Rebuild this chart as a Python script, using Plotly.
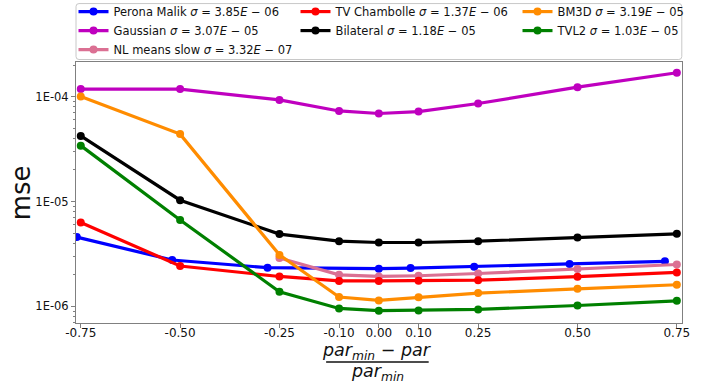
import plotly.graph_objects as go

# Relative parameter offsets (par_min - par) / par_min
x_common = [-0.75, -0.5, -0.25, -0.1, 0.0, 0.1, 0.25, 0.5, 0.75]
x_perona = [-0.76, -0.52, -0.28, 0.0, 0.08, 0.24, 0.48, 0.72]
x_nlmeans = [-0.25, -0.1, 0.0, 0.1, 0.25, 0.5, 0.75]

# Mean squared error per method
mse_perona = [4.58e-6, 2.77e-6, 2.34e-6, 2.29e-6, 2.32e-6, 2.39e-6, 2.54e-6, 2.69e-6]
mse_gaussian = [1.18e-4, 1.18e-4, 9.3e-5, 7.3e-5, 6.9e-5, 7.2e-5, 8.6e-5, 1.23e-4, 1.69e-4]
mse_nlmeans = [2.89e-6, 2.0e-6, 1.93e-6, 1.96e-6, 2.06e-6, 2.27e-6, 2.51e-6]
mse_tv = [6.31e-6, 2.43e-6, 1.93e-6, 1.75e-6, 1.75e-6, 1.76e-6, 1.78e-6, 1.92e-6, 2.11e-6]
mse_bilateral = [4.22e-5, 1.03e-5, 4.89e-6, 4.19e-6, 4.07e-6, 4.07e-6, 4.19e-6, 4.54e-6, 4.92e-6]
mse_bm3d = [1.0e-4, 4.39e-5, 3.1e-6, 1.23e-6, 1.14e-6, 1.22e-6, 1.34e-6, 1.47e-6, 1.61e-6]
mse_tvl2 = [3.41e-5, 6.67e-6, 1.38e-6, 9.57e-7, 9.1e-7, 9.14e-7, 9.36e-7, 1.02e-6, 1.13e-6]

x_ticks = [-0.75, -0.5, -0.25, -0.1, 0.0, 0.1, 0.25, 0.5, 0.75]
x_ticktext = ["-0.75", "-0.50", "-0.25", "-0.10", "0.00", "0.10", "0.25", "0.50", "0.75"]
y_ticks = [1e-6, 1e-5, 1e-4]
y_ticktext = ["1E-06", "1E-05", "1E-04"]


def sig(name, mant, exp):
    return f"{name} <i>σ</i> = {mant}<i>E</i> − {exp}"


series = [
    (sig("Perona Malik", "3.85", "06"), x_perona, mse_perona, "#0000ff", 1),
    (sig("Gaussian", "3.07", "05"), x_common, mse_gaussian, "#bf00bf", 4),
    (sig("NL means slow", "3.32", "07"), x_nlmeans, mse_nlmeans, "#db7093", 7),
    (sig("TV Chambolle", "1.37", "06"), x_common, mse_tv, "#ff0000", 2),
    (sig("Bilateral", "1.18", "05"), x_common, mse_bilateral, "#000000", 5),
    (sig("BM3D", "3.19", "05"), x_common, mse_bm3d, "#ff8c00", 3),
    (sig("TVL2", "1.03", "05"), x_common, mse_tvl2, "#008000", 6),
]

fig = go.Figure()
for name, xs, ys, color, rank in series:
    fig.add_trace(go.Scatter(
        x=xs, y=ys, name=name, mode="lines+markers",
        line=dict(color=color, width=3.2),
        marker=dict(color=color, size=8),
        legendrank=rank,
    ))

W, H = 713, 385
L, R, T, B = 75.5, 31.3, 62, 61.7
plot_w = W - L - R
plot_h = H - T - B

font = "DejaVu Sans"
axis_col = "#808080"
text_col = "#111111"

minor_vals = [k * 10.0 ** e for e in (-7, -6, -5, -4) for k in range(2, 10)]


def px_x(X):
    return (X - L) / plot_w


def px_y(Y):
    return (H - B - Y) / plot_h


fig.update_layout(
    width=W, height=H,
    margin=dict(l=L, r=R, t=T, b=B, pad=0, autoexpand=False),
    paper_bgcolor="white", plot_bgcolor="white",
    font=dict(family=font, color=text_col, size=12),
    showlegend=True,
    legend=dict(
        orientation="h", x=px_x(73), xanchor="left",
        y=px_y(-3), yanchor="top",
        entrywidth=177, entrywidthmode="pixels",
        font=dict(family=font, size=11.5, color=text_col),
        borderwidth=0, bgcolor="rgba(0,0,0,0)",
        itemwidth=30, tracegroupgap=0,
    ),
    xaxis=dict(
        range=[-0.762, 0.763], tickvals=x_ticks, ticktext=x_ticktext,
        showgrid=False, zeroline=False,
        showline=True, linecolor=axis_col, linewidth=1, mirror=True,
        ticks="outside", ticklen=4, tickcolor=axis_col,
        ticklabelstandoff=-5,
        tickfont=dict(family=font, size=12, color=text_col),
    ),
    yaxis=dict(
        type="log", range=[-6.158, -3.670],
        tickvals=y_ticks, ticktext=y_ticktext,
        showgrid=False, zeroline=False,
        showline=True, linecolor=axis_col, linewidth=1, mirror=True,
        ticks="outside", ticklen=4, tickcolor=axis_col,
        tickfont=dict(family=font, size=11.5, color=text_col),
        minor=dict(tickvals=minor_vals, ticks="outside", ticklen=2,
                   tickcolor=axis_col, showgrid=False),
    ),
)

# legend frame with slightly rounded corners
bx0, bx1, by0, by1, rad = 75.5, 681.5, 3.5, 59.5, 3


def pt(X, Y):
    return f"{px_x(X):.5f},{px_y(Y):.5f}"


frame_path = (
    f"M{pt(bx0 + rad, by0)} L{pt(bx1 - rad, by0)} Q{pt(bx1, by0)} {pt(bx1, by0 + rad)} "
    f"L{pt(bx1, by1 - rad)} Q{pt(bx1, by1)} {pt(bx1 - rad, by1)} "
    f"L{pt(bx0 + rad, by1)} Q{pt(bx0, by1)} {pt(bx0, by1 - rad)} "
    f"L{pt(bx0, by0 + rad)} Q{pt(bx0, by0)} {pt(bx0 + rad, by0)} Z"
)
fig.add_shape(type="path", xref="paper", yref="paper", path=frame_path,
              line=dict(color="#c8c8c8", width=1), layer="above")

# y-axis title
fig.add_annotation(
    text="mse", xref="paper", yref="paper",
    x=px_x(20), y=px_y(193), textangle=-90,
    showarrow=False, font=dict(family=font, size=26, color=text_col),
    xanchor="center", yanchor="middle",
)

# x-axis title drawn as a fraction
frac_font = dict(family=font, size=17.5, color=text_col)
fig.add_annotation(
    text="<i>par</i><sub><i>min</i></sub> − <i>par</i>",
    xref="paper", yref="paper", x=px_x(377), y=px_y(352),
    showarrow=False, font=frac_font, xanchor="center", yanchor="middle",
)
fig.add_annotation(
    text="<i>par</i><sub><i>min</i></sub>",
    xref="paper", yref="paper", x=px_x(377), y=px_y(373),
    showarrow=False, font=frac_font, xanchor="center", yanchor="middle",
)
fig.add_shape(
    type="line", xref="paper", yref="paper",
    x0=px_x(325.7), x1=px_x(428.3), y0=px_y(362.3), y1=px_y(362.3),
    line=dict(color=text_col, width=1.5),
)

fig.write_html("out.html")
